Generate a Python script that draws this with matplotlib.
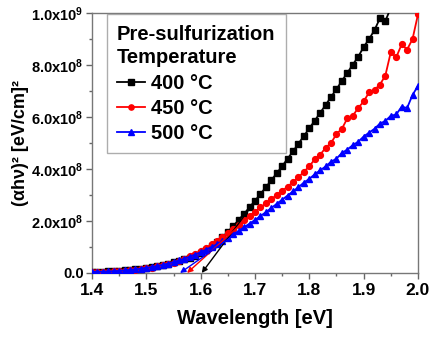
"""
Tauc plot: (alpha*h*nu)^2 vs photon energy for three pre-sulfurization temperatures.
"""

import matplotlib
matplotlib.use("Agg")
import matplotlib.pyplot as plt
from matplotlib.ticker import FixedLocator, MultipleLocator, FuncFormatter

plt.rcParams["font.family"] = ["Liberation Sans", "DejaVu Sans"]
plt.rcParams["font.weight"] = "bold"
plt.rcParams["mathtext.fontset"] = "custom"
plt.rcParams["mathtext.rm"] = "Liberation Sans:bold"
plt.rcParams["mathtext.bf"] = "Liberation Sans:bold"
plt.rcParams["mathtext.it"] = "Liberation Sans:bold"

# photon energy grid (eV)
energy = [
    1.40, 1.41, 1.42, 1.43, 1.44, 1.45, 1.46, 1.47, 1.48, 1.49,
    1.50, 1.51, 1.52, 1.53, 1.54, 1.55, 1.56, 1.57, 1.58, 1.59,
    1.60, 1.61, 1.62, 1.63, 1.64, 1.65, 1.66, 1.67, 1.68, 1.69,
    1.70, 1.71, 1.72, 1.73, 1.74, 1.75, 1.76, 1.77, 1.78, 1.79,
    1.80, 1.81, 1.82, 1.83, 1.84, 1.85, 1.86, 1.87, 1.88, 1.89,
    1.90, 1.91, 1.92, 1.93, 1.94, 1.95, 1.96, 1.97, 1.98, 1.99,
    2.00,
]

# (alpha h nu)^2 in units of 1e8 (eV/cm)^2
t400 = [
    0.03, 0.04, 0.05, 0.06, 0.07, 0.08, 0.10, 0.12, 0.14, 0.16,
    0.19, 0.22, 0.26, 0.30, 0.35, 0.41, 0.47, 0.53, 0.59, 0.66,
    0.75, 0.88, 1.02, 1.18, 1.37, 1.58, 1.81, 2.04, 2.28, 2.53,
    2.78, 3.04, 3.30, 3.57, 3.84, 4.11, 4.40, 4.68, 4.98, 5.27,
    5.57, 5.86, 6.17, 6.46, 6.78, 7.07, 7.40, 7.70, 8.02, 8.32,
    8.70, 9.00, 9.35, 9.80, 9.70, 10.2, 10.6, 11.0, 11.4, 11.8,
    12.2,
]
t450 = [
    0.03, 0.04, 0.04, 0.05, 0.06, 0.07, 0.09, 0.10, 0.12, 0.15,
    0.18, 0.21, 0.25, 0.29, 0.34, 0.40, 0.47, 0.55, 0.64, 0.74,
    0.85, 0.97, 1.10, 1.24, 1.39, 1.54, 1.70, 1.86, 2.02, 2.19,
    2.36, 2.52, 2.68, 2.84, 3.00, 3.16, 3.32, 3.50, 3.68, 3.90,
    4.10, 4.38, 4.55, 4.82, 5.00, 5.35, 5.55, 5.95, 6.05, 6.35,
    6.60, 6.95, 7.05, 7.25, 7.60, 8.50, 8.30, 8.80, 8.60, 9.00,
    9.95,
]
t500 = [
    0.04, 0.05, 0.05, 0.06, 0.07, 0.08, 0.10, 0.12, 0.14, 0.17,
    0.20, 0.23, 0.27, 0.31, 0.36, 0.42, 0.48, 0.55, 0.63, 0.71,
    0.80, 0.90, 1.00, 1.11, 1.23, 1.36, 1.49, 1.62, 1.76, 1.90,
    2.04, 2.19, 2.34, 2.50, 2.66, 2.82, 2.98, 3.14, 3.30, 3.48,
    3.62, 3.80, 3.95, 4.10, 4.28, 4.40, 4.62, 4.75, 4.92, 5.05,
    5.25, 5.40, 5.55, 5.75, 5.85, 6.05, 6.10, 6.40, 6.35, 6.85,
    7.20,
]

labels = ["400 °C", "450 °C", "500 °C"]
colors = ["black", "red", "blue"]
markers = ["s", "o", "^"]

# linear-fit extrapolations: (x_low, x_high), (y_low, y_high) in 1e8 units
fit_x = [(1.602, 1.70), (1.575, 1.70), (1.562, 1.70)]
fit_y = [(0.0, 2.75), (0.0, 2.36), (0.0, 2.02)]

fig = plt.figure(figsize=(4.30, 3.37), dpi=100)
ax = fig.add_axes([0.214, 0.19, 0.758, 0.771])

series = [t400, t450, t500]
for vals, lab, col, mk in zip(series, labels, colors, markers):
    ax.plot(energy, [v * 1e8 for v in vals], color=col, marker=mk,
            markersize=4.2, linewidth=1.3, label=lab, zorder=3)

for (x0, x1), (y0, y1), col in zip(fit_x, fit_y, colors):
    ax.annotate("", xy=(x0, y0 * 1e8), xytext=(x1, y1 * 1e8),
                arrowprops=dict(arrowstyle="-|>", color=col, lw=1.0,
                                mutation_scale=8, shrinkA=0, shrinkB=0),
                zorder=4)

ax.set_xlim(1.4, 2.0)
ax.set_ylim(0, 1.0e9)
ax.xaxis.set_major_locator(MultipleLocator(0.1))
ax.xaxis.set_minor_locator(MultipleLocator(0.05))
ax.yaxis.set_major_locator(FixedLocator([0, 2e8, 4e8, 6e8, 8e8, 1e9]))
ax.yaxis.set_minor_locator(MultipleLocator(1e8))


def fmt_y(v, pos):
    if v == 0:
        return "0.0"
    exp = 9 if v >= 1e9 else 8
    return r"%.1fx10$^{%d}$" % (v / 10 ** exp, exp)


ax.yaxis.set_major_formatter(FuncFormatter(fmt_y))
ax.tick_params(axis="x", which="major", labelsize=12.5, length=4, width=1, color="#666666", pad=3)
ax.tick_params(axis="y", which="major", labelsize=10.5, length=4, width=1, color="#666666", pad=2)
ax.tick_params(which="minor", length=2.5, width=1, color="#666666")
for sp in ax.spines.values():
    sp.set_color("#777777")
    sp.set_linewidth(1.0)

ax.set_xlabel("Wavelength [eV]", fontsize=14.5, fontweight="bold", labelpad=8)
ax.set_ylabel("(αhν)² [eV/cm]²", fontsize=13, fontweight="bold", labelpad=2)

leg = ax.legend(title="Pre-sulfurization\nTemperature", loc="upper left",
                bbox_to_anchor=(0.046, 0.995), fontsize=14.5, title_fontsize=14.5,
                frameon=True, fancybox=False, edgecolor="#999999",
                handlelength=1.4, handletextpad=0.3, labelspacing=0.3,
                borderpad=0.5, borderaxespad=0, markerscale=0.9)
leg.get_title().set_fontweight("bold")
leg.get_title().set_ha("left")
leg.get_title().set_linespacing(1.3)
leg._legend_box.align = "left"
leg._legend_box.sep = 5
leg.get_frame().set_linewidth(1.0)

fig.savefig("out.png", dpi=100)
